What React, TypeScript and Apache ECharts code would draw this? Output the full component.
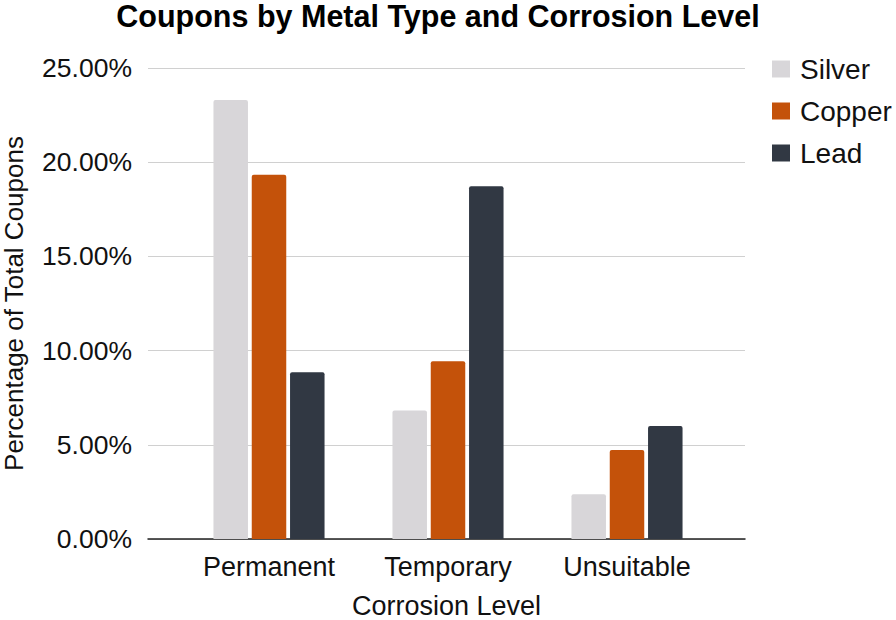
import React, { useEffect, useRef } from "react";
import * as echarts from "echarts";

const categories = ["Permanent", "Temporary", "Unsuitable"];
const silver = [23.3, 6.82, 2.37];
const copper = [19.33, 9.44, 4.73];
const lead = [8.85, 18.72, 6.0];
const seriesNames = ["Silver", "Copper", "Lead"];
const colors = ["#d8d6d9", "#c4520a", "#313843"];
const yTicks = [0, 5, 10, 15, 20, 25];

export default function App() {
  const ref = useRef<HTMLDivElement>(null);
  useEffect(() => {
    document.body.style.margin = "0";
    if (!ref.current) return;
    const chart = echarts.init(ref.current, null, { renderer: "svg" });
    const font = "Liberation Sans, Arial, sans-serif";
    const top = 68;
    const bottom = 81;
    const values = [silver, copper, lead];
    chart.setOption({
      animation: false,
      textStyle: { fontFamily: font },
      title: {
        text: "Coupons by Metal Type and Corrosion Level",
        left: 438,
        textAlign: "center",
        top: 0,
        padding: 0,
        textStyle: { fontSize: 30.5, fontWeight: "bold", color: "#000", fontFamily: font },
      },
      legend: {
        orient: "vertical",
        left: 767,
        top: 50,
        itemWidth: 18,
        itemHeight: 17,
        itemGap: 14,
        icon: "rect",
        data: seriesNames,
        textStyle: { fontSize: 28, color: "#111", fontFamily: font, padding: [0, 0, 0, 5] },
      },
      grid: [
        { left: 148, right: 151, top, bottom, outerBoundsMode: "none", containLabel: false },
        { left: 179.5, right: 179.5, top, bottom, outerBoundsMode: "none", containLabel: false },
      ],
      xAxis: [
        {
          type: "category",
          gridIndex: 0,
          data: categories,
          axisLine: { show: true, lineStyle: { color: "#222", width: 1.5 } },
          axisTick: { show: false },
          axisLabel: { show: false },
          name: "Corrosion Level",
          nameLocation: "middle",
          nameGap: 53,
          nameTextStyle: { fontSize: 27, color: "#111", fontFamily: font },
        },
        {
          type: "category",
          gridIndex: 1,
          data: categories,
          axisLine: { show: false },
          axisTick: { show: false },
          axisLabel: { fontSize: 27, color: "#111", margin: 14, fontFamily: font },
        },
      ],
      yAxis: [
        {
          type: "value",
          gridIndex: 0,
          min: 0,
          max: 25,
          interval: 5,
          axisLine: { show: false },
          axisTick: { show: false },
          splitLine: { lineStyle: { color: "#d0d0d0", width: 1 } },
          axisLabel: {
            fontSize: 26.5,
            color: "#111",
            margin: 16,
            fontFamily: font,
            formatter: (v: number) => (yTicks.includes(v) ? v.toFixed(2) + "%" : ""),
          },
          name: "Percentage of Total Coupons",
          nameLocation: "middle",
          nameGap: 121,
          nameTextStyle: { fontSize: 26, color: "#111", fontFamily: font },
        },
        {
          type: "value",
          gridIndex: 1,
          min: 0,
          max: 25,
          interval: 5,
          show: false,
          splitLine: { show: false },
        },
      ],
      series: seriesNames.map((name, i) => ({
        name,
        type: "bar",
        xAxisIndex: 1,
        yAxisIndex: 1,
        data: values[i],
        barWidth: 34.5,
        barGap: "11%",
        itemStyle: { color: colors[i], borderRadius: [2, 2, 0, 0] },
      })),
    });
    return () => chart.dispose();
  }, []);
  return <div ref={ref} style={{ width: 896, height: 620 }} />;
}
